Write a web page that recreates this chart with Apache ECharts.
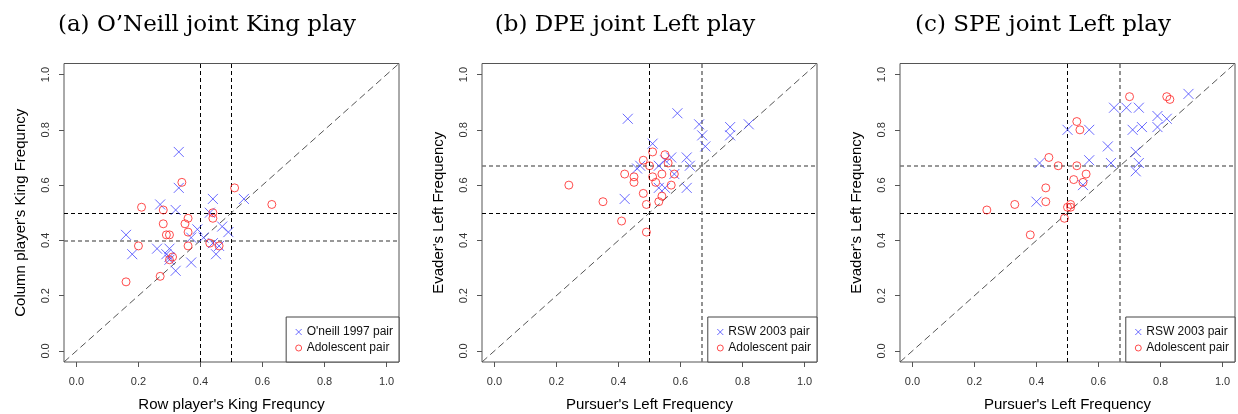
<!DOCTYPE html>
<html>
<head>
<meta charset="utf-8">
<title>joint play</title>
<script src="https://cdn.jsdelivr.net/npm/echarts@6/dist/echarts.min.js"></script>
<style>
  html, body { margin: 0; padding: 0; background: #fff; }
  #main { width: 1238px; height: 414px; }
</style>
</head>
<body>
<div id="main"></div>
<script>
// (a) O'Neill game: [row King freq, column King freq]
var oneillPairs = [
  [0.33,0.72],[0.33,0.59],[0.27,0.53],[0.32,0.51],[0.44,0.55],[0.54,0.55],[0.43,0.50],
  [0.39,0.44],[0.47,0.45],[0.49,0.43],[0.41,0.41],[0.37,0.41],[0.16,0.42],[0.18,0.35],
  [0.26,0.37],[0.30,0.37],[0.29,0.35],[0.30,0.34],[0.30,0.33],[0.32,0.29],[0.37,0.32],
  [0.45,0.35],[0.46,0.38],[0.44,0.39]
];
var adolKing = [
  [0.34,0.61],[0.21,0.52],[0.28,0.51],[0.51,0.59],[0.63,0.53],[0.28,0.46],[0.36,0.48],
  [0.35,0.46],[0.36,0.43],[0.29,0.42],[0.30,0.42],[0.44,0.50],[0.44,0.48],[0.20,0.38],
  [0.36,0.38],[0.43,0.39],[0.46,0.38],[0.30,0.33],[0.31,0.34],[0.27,0.27],[0.16,0.25]
];
// (b) DPE game: [pursuer Left freq, evader Left freq]
var rswDpe = [
  [0.42,0.55],[0.43,0.84],[0.46,0.66],[0.47,0.67],[0.51,0.75],[0.53,0.67],[0.53,0.59],
  [0.55,0.59],[0.55,0.69],[0.57,0.70],[0.58,0.64],[0.62,0.59],[0.62,0.70],[0.63,0.67],
  [0.59,0.86],[0.66,0.82],[0.67,0.78],[0.68,0.74],[0.76,0.81],[0.76,0.78],[0.82,0.82]
];
var adolDpe = [
  [0.24,0.60],[0.35,0.54],[0.41,0.47],[0.42,0.64],[0.45,0.63],[0.45,0.61],[0.48,0.69],
  [0.48,0.57],[0.49,0.53],[0.49,0.43],[0.50,0.67],[0.51,0.72],[0.51,0.63],[0.52,0.61],
  [0.54,0.64],[0.55,0.71],[0.56,0.68],[0.58,0.64],[0.57,0.60],[0.54,0.56],[0.53,0.54]
];
// (c) SPE game
var rswSpe = [
  [0.40,0.54],[0.41,0.68],[0.50,0.80],[0.57,0.80],[0.57,0.69],[0.55,0.60],[0.63,0.74],
  [0.64,0.68],[0.65,0.88],[0.69,0.88],[0.73,0.88],[0.71,0.80],[0.74,0.81],[0.72,0.72],
  [0.73,0.68],[0.72,0.65],[0.79,0.85],[0.79,0.81],[0.82,0.84],[0.89,0.93]
];
var adolSpe = [
  [0.24,0.51],[0.33,0.53],[0.38,0.42],[0.43,0.54],[0.43,0.59],[0.44,0.70],[0.47,0.67],
  [0.49,0.48],[0.50,0.52],[0.51,0.52],[0.51,0.53],[0.52,0.62],[0.53,0.67],[0.53,0.83],
  [0.54,0.80],[0.55,0.61],[0.56,0.64],[0.70,0.92],[0.82,0.92],[0.83,0.91]
];

var tickValues = [0, 0.2, 0.4, 0.6, 0.8, 1.0];
var axisRange = [-0.04, 1.04];
var panelTitles = ["(a) O\u2019Neill joint King play", "(b) DPE joint Left play", "(c) SPE joint Left play"];
var xNames = ["Row player's King Frequncy", "Pursuer's Left Frequency", "Pursuer's Left Frequency"];
var yNames = ["Column player's King Frequncy", "Evader's Left Frequency", "Evader's Left Frequency"];
var fieldNames = ["O'neill 1997 pair", "RSW 2003 pair", "RSW 2003 pair"];
// equilibrium lines: [black line, grey line]
var eqLines = [[0.5, 0.4], [0.5, 0.6667], [0.5, 0.6667]];

var fieldData = [oneillPairs, rswDpe, rswSpe];
var adolData = [adolKing, adolDpe, adolSpe];

var gridLeft = [64, 482, 900];
var gridW = 335, gridTop = 63.5, gridH = 298.5;
var sans = "Liberation Sans";

var grids = [], xAxes = [], yAxes = [], series = [], titles = [], legends = [];

function tickLabel(v) { return v.toFixed(1); }

for (var i = 0; i < 3; i++) {
  grids.push({
    left: gridLeft[i], top: gridTop, width: gridW, height: gridH,
    outerBoundsMode: 'none',
    show: true, borderColor: '#555', borderWidth: 1, backgroundColor: 'transparent'
  });
  titles.push({
    text: panelTitles[i],
    left: gridLeft[i] - 64 + 207, top: 14, textAlign: 'center', padding: 0,
    textStyle: { fontFamily: 'DejaVu Serif', fontSize: 23, fontWeight: 'normal', color: '#000' }
  });
  xAxes.push({
    type: 'value', gridIndex: i, min: axisRange[0], max: axisRange[1],
    axisLine: { show: false, onZero: false },
    splitLine: { show: false },
    axisTick: { show: true, customValues: tickValues, length: 5, lineStyle: { color: '#555' } },
    axisLabel: { customValues: tickValues, margin: 14, fontFamily: sans, fontSize: 11, color: '#333',
      formatter: tickLabel },
    name: xNames[i], nameLocation: 'middle', nameGap: 35,
    nameTextStyle: { fontFamily: sans, fontSize: 15, color: '#000' }
  });
  yAxes.push({
    type: 'value', gridIndex: i, min: axisRange[0], max: axisRange[1],
    axisLine: { show: false, onZero: false },
    splitLine: { show: false },
    axisTick: { show: true, customValues: tickValues, length: 5, lineStyle: { color: '#555' } },
    axisLabel: { customValues: tickValues, rotate: 90, margin: 13, fontFamily: sans, fontSize: 11, color: '#333',
      formatter: tickLabel },
    name: yNames[i], nameLocation: 'middle', nameGap: 36,
    nameTextStyle: { fontFamily: sans, fontSize: 15, color: '#000' }
  });

  // 45 degree line plus the equilibrium markers
  series.push({
    type: 'line', xAxisIndex: i, yAxisIndex: i, silent: true, z: 1,
    data: [[axisRange[0], axisRange[0]], [axisRange[1], axisRange[1]]],
    symbol: 'none',
    lineStyle: { color: '#555', width: 1, type: [7, 4] },
    markLine: {
      silent: true, symbol: 'none', label: { show: false }, z: 1,
      data: [
        { xAxis: eqLines[i][0], lineStyle: { color: '#000', width: 1, type: [4, 3] } },
        { yAxis: eqLines[i][0], lineStyle: { color: '#000', width: 1, type: [4, 3] } },
        { xAxis: eqLines[i][1], lineStyle: { color: i == 0 ? '#000' : '#777', width: i == 0 ? 1 : 1.6, type: [4, 3] } },
        { yAxis: eqLines[i][1], lineStyle: { color: '#777', width: 1.6, type: [4, 3] } }
      ]
    }
  });
  series.push({
    name: fieldNames[i], type: 'scatter', xAxisIndex: i, yAxisIndex: i,
    data: fieldData[i],
    symbol: 'path://M0,0L10,10M10,0L0,10', symbolSize: 10,
    itemStyle: { color: 'rgba(0,0,0,0)', borderColor: '#4545ff', borderWidth: 1 }
  });
  series.push({
    name: 'Adolescent pair', type: 'scatter', xAxisIndex: i, yAxisIndex: i,
    data: adolData[i],
    symbol: 'circle', symbolSize: 8,
    itemStyle: { color: 'rgba(0,0,0,0)', borderColor: '#ff2020', borderWidth: 1 }
  });

  legends.push({
    data: [fieldNames[i], 'Adolescent pair'],
    orient: 'vertical',
    right: 1238 - (gridLeft[i] + gridW), bottom: 414 - (gridTop + gridH),
    itemWidth: 6, itemHeight: 6, itemGap: 4,
    padding: [9, 6, 8, 9],
    itemStyle: { borderWidth: 1 },
    backgroundColor: '#fff', borderColor: '#444', borderWidth: 1,
    selectedMode: false,
    textStyle: { fontFamily: sans, fontSize: 12, color: '#111' }
  });
}

var myChart = echarts.init(document.getElementById('main'));
myChart.setOption({
  animation: false,
  title: titles,
  legend: legends,
  grid: grids,
  xAxis: xAxes,
  yAxis: yAxes,
  series: series
});
</script>
</body>
</html>
